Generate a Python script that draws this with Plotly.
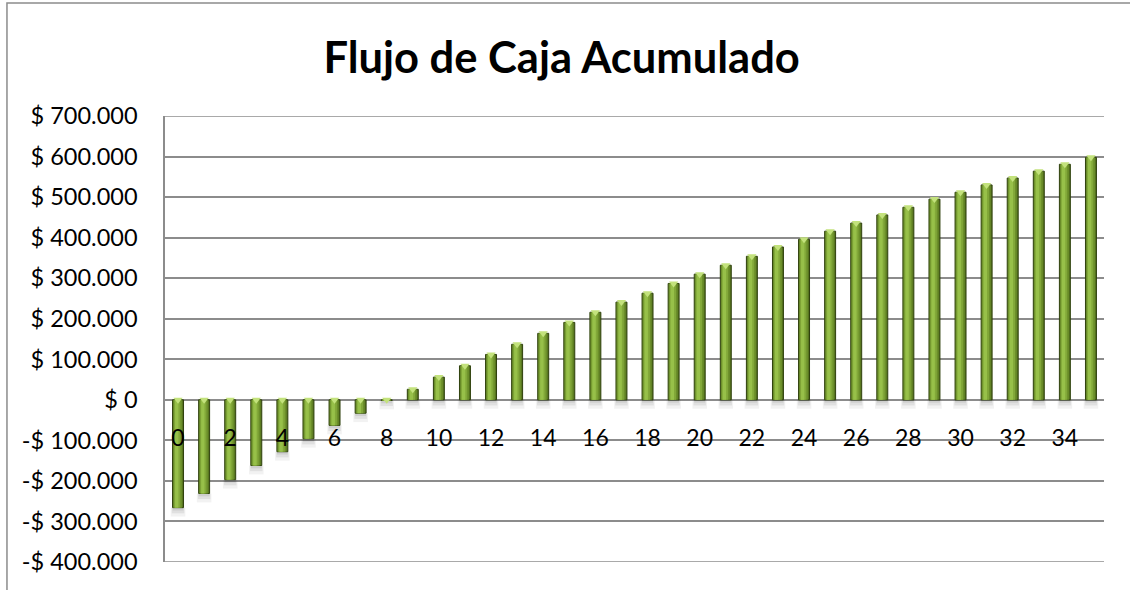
import plotly.graph_objects as go

# Periodos (años) y flujo de caja acumulado en pesos
periodos = [0, 1, 2, 3, 4, 5, 6, 7, 8, 9, 10, 11, 12, 13, 14, 15, 16, 17,
            18, 19, 20, 21, 22, 23, 24, 25, 26, 27, 28, 29, 30, 31, 32, 33, 34, 35]
flujo_acumulado = [-266000, -231000, -197000, -162000, -128000, -96000, -63000,
                   -33000, -1500, 26000, 56000, 84000, 112000, 137000, 164000,
                   191000, 216000, 241000, 263000, 287000, 310000, 332000, 354000,
                   377000, 396000, 416000, 436000, 456000, 475000, 495000, 512000,
                   530000, 547000, 564000, 581000, 598000]

x_tick_vals = [0, 2, 4, 6, 8, 10, 12, 14, 16, 18, 20, 22, 24, 26, 28, 30, 32, 34]
x_tick_text = ["0", "2", "4", "6", "8", "10", "12", "14", "16", "18", "20",
               "22", "24", "26", "28", "30", "32", "34"]
y_tick_vals = [700000, 600000, 500000, 400000, 300000, 200000, 100000, 0,
               -100000, -200000, -300000, -400000]
y_tick_text = ["$ 700.000", "$ 600.000", "$ 500.000", "$ 400.000", "$ 300.000",
               "$ 200.000", "$ 100.000", "$ 0", "-$ 100.000", "-$ 200.000",
               "-$ 300.000", "-$ 400.000"]

Y_MIN, Y_MAX = -400000, 700000
FONT = "Lato"
GRID = "#8c8c8c"

fig = go.Figure()

# soft drop shadow under the lower end of each bar
lower_end = [min(v, 0) for v in flujo_acumulado]
for w, h, a in [(0.56, -22000, 0.05), (0.48, -14000, 0.07), (0.42, -7000, 0.08)]:
    fig.add_trace(go.Bar(x=periodos, y=[h] * len(periodos), base=lower_end,
                         width=w, offset=-w / 2,
                         marker=dict(color=f"rgba(0,0,0,{a})", line=dict(width=0)),
                         hoverinfo="skip", showlegend=False))

# cylinder-like shading built from stacked overlays of narrower bars
layers = [
    (0.42, -0.21, "#56731f", dict(color="#2f410d", width=1)),
    (0.34, -0.185, "#6b8e2a", dict(width=0)),
    (0.24, -0.15, "#82a839", dict(width=0)),
    (0.13, -0.115, "#97c049", dict(width=0)),
]
for w, off, col, ln in layers:
    fig.add_trace(go.Bar(x=periodos, y=flujo_acumulado, width=w, offset=off,
                         marker=dict(color=col, line=ln),
                         showlegend=False, hoverinfo="x+y"))

# light bevel at the top end of each bar
top_end = [max(v, 0) for v in flujo_acumulado]
fig.add_trace(go.Scatter(x=periodos, y=top_end, mode="markers",
                         marker=dict(symbol="triangle-down", size=8,
                                     color="#c3e27c", line=dict(width=0)),
                         hoverinfo="skip", showlegend=False))

axis_pos = (0 - Y_MIN) / (Y_MAX - Y_MIN)

# gridlines at both ends of the value range, plus the outer chart frame
edge_lines = [dict(type="line", xref="paper", yref="y", x0=0, x1=1, y0=v, y1=v,
                   line=dict(color=GRID, width=1.5), layer="below")
              for v in (Y_MIN, Y_MAX)]
frame = dict(type="path", xref="paper", yref="paper",
             path="M -0.1683,-0.08 L -0.1683,1.2534 L 1.04,1.2534",
             line=dict(color=GRID, width=1.5))

fig.update_layout(
    width=1130, height=590,
    margin=dict(l=165, r=26, t=116, b=28),
    paper_bgcolor="white", plot_bgcolor="white",
    barmode="overlay",
    showlegend=False,
    title=dict(text="<b>Flujo de Caja Acumulado</b>", xref="container", x=0.497,
               xanchor="center", yref="container", y=0.902, yanchor="middle",
               font=dict(family=FONT, size=43.5, color="black")),
    xaxis=dict(range=[-0.5, 35.5], anchor="free", position=axis_pos,
               tickmode="array", tickvals=x_tick_vals, ticktext=x_tick_text,
               showgrid=False, zeroline=False, showline=False, ticks="",
               ticklabelstandoff=22,
               tickfont=dict(family=FONT, size=23, color="black")),
    yaxis=dict(range=[Y_MIN, Y_MAX], tickmode="array", tickvals=y_tick_vals,
               ticktext=y_tick_text, showgrid=True, gridcolor=GRID, gridwidth=1.5,
               zeroline=False, showline=True, linecolor=GRID, linewidth=1.5,
               ticks="", ticklabelstandoff=21,
               tickfont=dict(family=FONT, size=23.5, color="black")),
    shapes=edge_lines + [frame],
)

fig.write_html("out.html")
